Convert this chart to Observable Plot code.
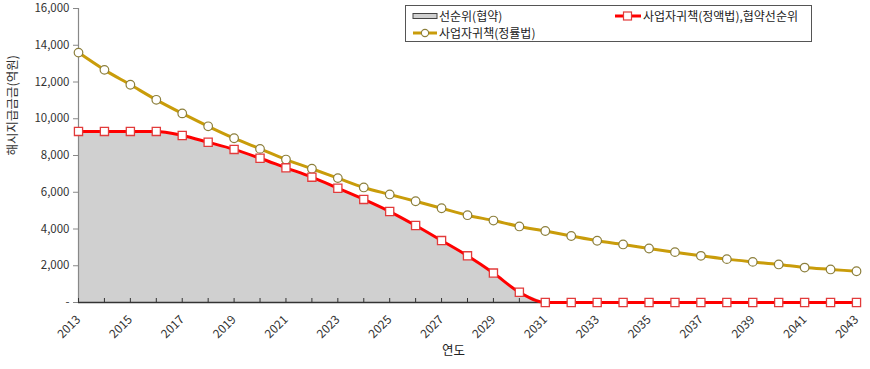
<!DOCTYPE html>
<html>
<head>
<meta charset="utf-8">
<script src="https://cdn.jsdelivr.net/npm/d3@7"></script>
<script src="https://cdn.jsdelivr.net/npm/@observablehq/plot@0.6"></script>
<style>
  html, body { margin: 0; padding: 0; background: #fff; }
  #wrap { position: relative; width: 870px; height: 369px; font-family: "Noto Sans CJK KR", "Noto Sans", sans-serif; }
  #legend { position: absolute; left: 405px; top: 5px; width: 407px; height: 37px; border: 1px solid #555; background: #fff; font-size: 12px; color: #222; box-sizing: border-box; }
  .item { position: absolute; display: flex; align-items: center; white-space: nowrap; }
  .item svg { margin-right: 1px; }
</style>
</head>
<body>
<div id="wrap">
  <div id="chart"></div>
  <div id="legend"></div>
</div>
<script>
const years = [2013,2014,2015,2016,2017,2018,2019,2020,2021,2022,2023,2024,2025,2026,2027,2028,2029,2030,2031,2032,2033,2034,2035,2036,2037,2038,2039,2040,2041,2042,2043];
const labeledYears = [2013,2015,2017,2019,2021,2023,2025,2027,2029,2031,2033,2035,2037,2039,2041,2043];
const yTicks = [0,2000,4000,6000,8000,10000,12000,14000,16000];
// 사업자귀책(정액법),협약선순위 (also the 선순위(협약) area)
const redValues = [9310,9310,9310,9310,9090,8720,8330,7850,7330,6820,6220,5610,4950,4190,3370,2540,1600,560,0,0,0,0,0,0,0,0,0,0,0,0,0];
// 사업자귀책(정률법)
const goldValues = [13600,12660,11850,11030,10290,9590,8940,8360,7780,7280,6770,6260,5880,5510,5130,4750,4460,4140,3890,3620,3360,3160,2940,2740,2540,2360,2210,2070,1900,1800,1700];
const seriesNames = ["선순위(협약)", "사업자귀책(정액법),협약선순위", "사업자귀책(정률법)"];
const yLabel = "해시지급금금(억원)";
const xLabel = "연도";

const data = years.map((year, i) => ({year, red: redValues[i], gold: goldValues[i]}));

const RED = "#ff0000";
const GOLD = "#c99c0a";
const AREA = "#d0d0d0";

const chart = Plot.plot({
  width: 870,
  height: 369,
  marginLeft: 78,
  marginRight: 14,
  marginTop: 8,
  marginBottom: 67,
  x: {domain: [2013, 2043]},
  y: {domain: [0, 16000]},
  style: {fontFamily: '"Noto Sans CJK KR", "Noto Sans", sans-serif', fontSize: "11.5px", color: "#333", background: "#fff"},
  marks: [
    Plot.areaY(data, {x: "year", y: "red", fill: AREA}),
    Plot.ruleX([2013], {stroke: "#888", strokeWidth: 1.2}),
    Plot.ruleY([0], {stroke: "#333", strokeWidth: 1.3}),
    Plot.ruleX(years, {insetTop: 290, stroke: "#333"}),
    Plot.axisY({ticks: yTicks, tickSize: 5, tickPadding: 4, stroke: "#888",
      tickFormat: d => d === 0 ? "-" : d3.format(",")(d), label: null}),
    Plot.axisX({ticks: labeledYears, tickSize: 0, tickPadding: 15, tickRotate: -45, fontSize: 12, tickFormat: d => String(d), label: null}),
    Plot.lineY(data, {x: "year", y: "gold", stroke: GOLD, strokeWidth: 3, curve: "monotone-x"}),
    Plot.dot(data, {x: "year", y: "gold", r: 4.3, fill: "#fff", stroke: "#8c7f3c", strokeWidth: 1.2}),
    Plot.lineY(data, {x: "year", y: "red", stroke: RED, strokeWidth: 3, curve: "monotone-x"}),
    Plot.dot(data, {x: "year", y: "red", symbol: "square", r: 4.6, fill: "#fff", stroke: "#e23b3b", strokeWidth: 1.3}),
    Plot.text([xLabel], {frameAnchor: "bottom", dx: -14, dy: 52, fontSize: 12.5, fill: "#222"}),
    Plot.text([yLabel], {frameAnchor: "left", dx: -66, rotate: -90, fontSize: 12.5, fill: "#333"})
  ]
});
document.getElementById("chart").appendChild(chart);

// Legend
const legend = document.getElementById("legend");
function addItem(left, top, swatchSvg, label) {
  const el = document.createElement("div");
  el.className = "item";
  el.style.left = left + "px";
  el.style.top = top + "px";
  el.innerHTML = swatchSvg + `<span>${label}</span>`;
  legend.appendChild(el);
}
addItem(6, 1,
  `<svg width="26" height="16"><rect x="1" y="5.5" width="24" height="5" fill="${AREA}" stroke="#444" stroke-width="1"/></svg>`,
  seriesNames[0]);
addItem(208, 1,
  `<svg width="28" height="16"><line x1="1" y1="8" x2="27" y2="8" stroke="${RED}" stroke-width="3"/><rect x="9.5" y="4" width="8" height="8" fill="#fff" stroke="#e23b3b" stroke-width="1.2"/></svg>`,
  seriesNames[1]);
addItem(6, 18,
  `<svg width="26" height="16"><line x1="1" y1="8" x2="25" y2="8" stroke="${GOLD}" stroke-width="3"/><circle cx="13" cy="8" r="3.6" fill="#fff" stroke="#8c7f3c" stroke-width="1.1"/></svg>`,
  seriesNames[2]);
</script>
</body>
</html>
